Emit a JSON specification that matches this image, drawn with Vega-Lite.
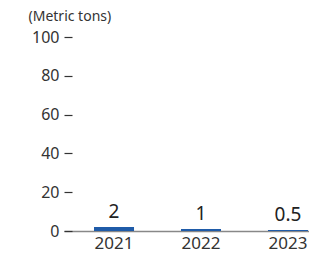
{
  "$schema": "https://vega.github.io/schema/vega-lite/v6.json",
  "autosize": "none",
  "width": 274,
  "height": 194,
  "padding": {"left": 64, "top": 37, "right": 0, "bottom": 22},
  "background": "white",
  "config": {
    "view": {"stroke": null},
    "font": "Noto Sans",
    "axis": {"grid": false, "labelFont": "Noto Sans", "titleFont": "Noto Sans"}
  },
  "data": {
    "values": [
      {"year": "2021", "tons": 2, "label": "2"},
      {"year": "2022", "tons": 1, "label": "1"},
      {"year": "2023", "tons": 0.5, "label": "0.5"}
    ]
  },
  "encoding": {
    "x": {
      "field": "year",
      "type": "nominal",
      "scale": {"paddingInner": 0.54, "paddingOuter": 0.345},
      "axis": {
        "title": null,
        "labelAngle": 0,
        "ticks": false,
        "domainColor": "#888888",
        "domainWidth": 1.5,
        "labelFontSize": 17,
        "labelColor": "#333333",
        "labelPadding": 4
      }
    },
    "y": {
      "field": "tons",
      "type": "quantitative",
      "scale": {"domain": [0, 100]},
      "axis": {
        "title": "(Metric tons)",
        "titleAngle": 0,
        "titleX": -36,
        "titleY": -17,
        "titleAlign": "left",
        "titleBaseline": "alphabetic",
        "titleFontSize": 14,
        "titleFontWeight": "normal",
        "titleColor": "#333333",
        "values": [0, 20, 40, 60, 80, 100],
        "domain": false,
        "tickSize": -8,
        "tickColor": "#333333",
        "tickWidth": 1.2,
        "labelPadding": 13,
        "labelFontSize": 16,
        "labelColor": "#333333"
      }
    }
  },
  "layer": [
    {"mark": {"type": "bar", "color": "#1f5ba8"}},
    {
      "mark": {"type": "text", "baseline": "alphabetic", "dy": -9, "fontSize": 19, "color": "#222222"},
      "encoding": {"text": {"field": "label"}}
    }
  ]
}
